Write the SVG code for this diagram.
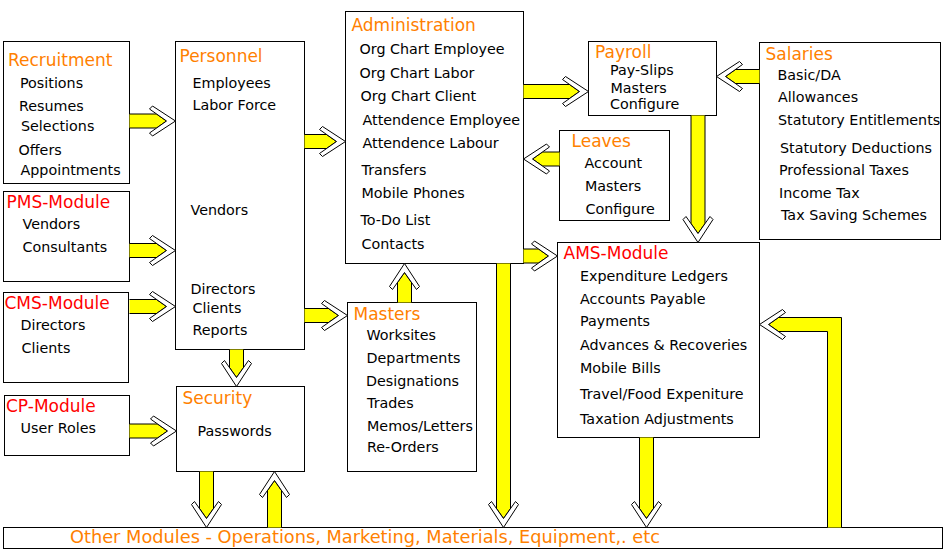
<svg xmlns="http://www.w3.org/2000/svg" xmlns:xlink="http://www.w3.org/1999/xlink" width="951" height="555" viewBox="0 0 951 555">
<style>
.box{fill:#fff;stroke:#000;stroke-width:1}
text{font-family:"DejaVu Sans",Verdana,sans-serif}
.t{font-size:17px;fill:#ff8000}
.r{font-size:17px;fill:#ff0000}
.i{font-size:14.3px;fill:#000}
.sh{fill:#ffff00;stroke:#000;stroke-width:1}
.ch{fill:#fff;stroke:#000;stroke-width:1}
</style>
<defs>
<polygon id="ch" class="ch" points="0,0 -23,-15 -26,-12 -9,0 -26,12 -23,15"/>
</defs>
<rect width="951" height="555" fill="#fff"/>
<g id="recruitment">
<rect class="box" x="3.5" y="41.5" width="126" height="142"/>
<text class="t" x="8" y="65.5">Recruitment</text>
<text class="i" x="20" y="88">Positions</text>
<text class="i" x="19" y="111">Resumes</text>
<text class="i" x="21" y="130.5">Selections</text>
<text class="i" x="18.5" y="154.5">Offers</text>
<text class="i" x="20.5" y="174.5">Appointments</text>
</g>
<g id="pms">
<rect class="box" x="3.5" y="191.5" width="126" height="90"/>
<text class="r" x="6.5" y="207.5">PMS-Module</text>
<text class="i" x="22.5" y="229">Vendors</text>
<text class="i" x="22.5" y="251.5">Consultants</text>
</g>
<g id="cms">
<rect class="box" x="3.5" y="292.5" width="125" height="90"/>
<text class="r" x="4.5" y="308.5">CMS-Module</text>
<text class="i" x="20.5" y="330">Directors</text>
<text class="i" x="21.5" y="352.5">Clients</text>
</g>
<g id="cp">
<rect class="box" x="4.5" y="395.5" width="125" height="60"/>
<text class="r" x="6" y="411.5">CP-Module</text>
<text class="i" x="20.5" y="432.5">User Roles</text>
</g>
<g id="personnel">
<rect class="box" x="175.5" y="41.5" width="129" height="308"/>
<text class="t" x="179.5" y="61.5">Personnel</text>
<text class="i" x="192.5" y="88">Employees</text>
<text class="i" x="192.5" y="110">Labor Force</text>
<text class="i" x="190.5" y="215">Vendors</text>
<text class="i" x="190.5" y="294">Directors</text>
<text class="i" x="192.5" y="313">Clients</text>
<text class="i" x="192.5" y="335">Reports</text>
</g>
<g id="security">
<rect class="box" x="176.5" y="386.5" width="128" height="85"/>
<text class="t" x="182.5" y="403.5">Security</text>
<text class="i" x="197.5" y="435.5">Passwords</text>
</g>
<g id="administration">
<rect class="box" x="345.5" y="11.5" width="178" height="252"/>
<text class="t" x="351.5" y="31">Administration</text>
<text class="i" x="359.5" y="53.5">Org Chart Employee</text>
<text class="i" x="359.5" y="77.5">Org Chart Labor</text>
<text class="i" x="360.5" y="101">Org Chart Client</text>
<text class="i" x="362.5" y="125">Attendence Employee</text>
<text class="i" x="362.5" y="147.5">Attendence Labour</text>
<text class="i" x="361.5" y="175">Transfers</text>
<text class="i" x="361.5" y="197.5">Mobile Phones</text>
<text class="i" x="360.5" y="225">To-Do List</text>
<text class="i" x="361.5" y="248.5">Contacts</text>
</g>
<g id="masters">
<rect class="box" x="347.5" y="302.5" width="129" height="169"/>
<text class="t" x="353.5" y="319.5">Masters</text>
<text class="i" x="366.5" y="340">Worksites</text>
<text class="i" x="366.5" y="362.5">Departments</text>
<text class="i" x="366" y="385.5">Designations</text>
<text class="i" x="367" y="407.5">Trades</text>
<text class="i" x="367" y="431">Memos/Letters</text>
<text class="i" x="367" y="451.5">Re-Orders</text>
</g>
<g id="payroll">
<rect class="box" x="588.5" y="41.5" width="128" height="74"/>
<text class="t" x="595" y="58" font-size="16.5">Payroll</text>
<text class="i" x="610" y="74.5">Pay-Slips</text>
<text class="i" x="610.5" y="92.5">Masters</text>
<text class="i" x="610" y="109">Configure</text>
</g>
<g id="leaves">
<rect class="box" x="559.5" y="130.5" width="110" height="90"/>
<text class="t" x="571.5" y="146.5">Leaves</text>
<text class="i" x="584.5" y="167.5">Account</text>
<text class="i" x="585" y="191">Masters</text>
<text class="i" x="585.5" y="213.5">Configure</text>
</g>
<g id="salaries">
<rect class="box" x="759.5" y="42.5" width="181" height="197"/>
<text class="t" x="765.5" y="59.5">Salaries</text>
<text class="i" x="777.5" y="79.5">Basic/DA</text>
<text class="i" x="778" y="101.5">Allowances</text>
<text class="i" x="778" y="125">Statutory Entitlements</text>
<text class="i" x="780" y="152.5">Statutory Deductions</text>
<text class="i" x="779" y="175">Professional Taxes</text>
<text class="i" x="779" y="197.5">Income Tax</text>
<text class="i" x="781" y="220">Tax Saving Schemes</text>
</g>
<g id="ams">
<rect class="box" x="557.5" y="242.5" width="202" height="195"/>
<text class="r" x="563.5" y="258.5">AMS-Module</text>
<text class="i" x="580" y="280.5">Expenditure Ledgers</text>
<text class="i" x="580" y="303.5">Accounts Payable</text>
<text class="i" x="580" y="326">Payments</text>
<text class="i" x="580" y="350">Advances &amp; Recoveries</text>
<text class="i" x="580" y="372.5">Mobile Bills</text>
<text class="i" x="580" y="398.5">Travel/Food Expeniture</text>
<text class="i" x="580" y="423.5">Taxation Adjustments</text>
</g>
<g id="other">
<rect class="box" x="3.5" y="527.5" width="939" height="21"/>
<text class="t" x="70" y="543" font-size="16" textLength="590" lengthAdjust="spacingAndGlyphs">Other Modules - Operations, Marketing, Materials, Equipment,. etc</text>
</g>
<g id="connectors">
<g transform="translate(175.5,121)"><path class="sh" d="M-46,-7H-19L-9,0L-19,7H-46"/><use xlink:href="#ch"/></g>
<g transform="translate(175.5,250.5)"><path class="sh" d="M-46,-7H-19L-9,0L-19,7H-46"/><use xlink:href="#ch"/></g>
<g transform="translate(175.5,306.5)"><path class="sh" d="M-46,-7H-19L-9,0L-19,7H-46"/><use xlink:href="#ch"/></g>
<g transform="translate(176.5,431)"><path class="sh" d="M-47,-7H-19L-9,0L-19,7H-47"/><use xlink:href="#ch"/></g>
<g transform="translate(345.5,141.5)"><path class="sh" d="M-41,-7H-19L-9,0L-19,7H-41"/><use xlink:href="#ch"/></g>
<g transform="translate(347.5,315.5)"><path class="sh" d="M-43,-7H-19L-9,0L-19,7H-43"/><use xlink:href="#ch"/></g>
<g transform="translate(236.5,386.5) rotate(90)"><path class="sh" d="M-37,-7H-19L-9,0L-19,7H-37"/><use xlink:href="#ch"/></g>
<g transform="translate(404.5,263.5) rotate(-90)"><path class="sh" d="M-39,-7H-19L-9,0L-19,7H-39"/><use xlink:href="#ch"/></g>
<g transform="translate(588.5,91.5)"><path class="sh" d="M-65,-7H-19L-9,0L-19,7H-65"/><use xlink:href="#ch"/></g>
<g transform="translate(716.5,76.5) rotate(180)"><path class="sh" d="M-43,-7H-19L-9,0L-19,7H-43"/><use xlink:href="#ch"/></g>
<g transform="translate(523.5,159) rotate(180)"><path class="sh" d="M-36,-7H-19L-9,0L-19,7H-36"/><use xlink:href="#ch"/></g>
<g transform="translate(698,242.5) rotate(90)"><path class="sh" d="M-127,-7H-19L-9,0L-19,7H-127"/><use xlink:href="#ch"/></g>
<g transform="translate(557.5,256)"><path class="sh" d="M-34,-7H-19L-9,0L-19,7H-34"/><use xlink:href="#ch"/></g>
<g transform="translate(503.5,527.5) rotate(90)"><path class="sh" d="M-264,-7H-19L-9,0L-19,7H-264"/><use xlink:href="#ch"/></g>
<g transform="translate(206.5,527.5) rotate(90)"><path class="sh" d="M-56,-7H-19L-9,0L-19,7H-56"/><use xlink:href="#ch"/></g>
<g transform="translate(274.5,471.5) rotate(-90)"><path class="sh" d="M-56,-7H-19L-9,0L-19,7H-56"/><use xlink:href="#ch"/></g>
<g transform="translate(646.5,527.5) rotate(90)"><path class="sh" d="M-90,-7H-19L-9,0L-19,7H-90"/><use xlink:href="#ch"/></g>
<path class="sh" d="M827.5,527.5V331.5H778.5L768.5,324.5L778.5,317.5H841.5V527.5"/>
<use xlink:href="#ch" transform="translate(759.5,324.5) rotate(180)"/>
</g>
</svg>
